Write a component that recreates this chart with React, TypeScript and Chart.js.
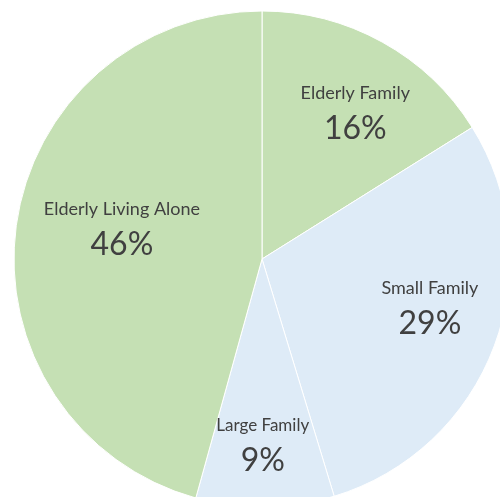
import React, { useEffect, useRef } from "react";
import { Chart, registerables } from "chart.js";

Chart.register(...registerables);

const categories = ["Elderly Family", "Small Family", "Large Family", "Elderly Living Alone"];
const shares = [16.1, 29.2, 9.0, 45.7];
const percentLabels = ["16%", "29%", "9%", "46%"];
const sliceColors = ["#C5E0B4", "#DEEBF7", "#DEEBF7", "#C5E0B4"];

// label placement relative to each slice: angle tweak (deg) and radius fraction
const labelAngleShift = [4.6, -2.5, 0.5, 2.0];
const labelRadiusFrac = [0.68, 0.712, 0.776, 0.573];
const titleFontSizes = [18, 18, 17, 18];

const FONT = "Lato, 'Open Sans', sans-serif";

const labelPlugin = {
  id: "sliceLabels",
  afterDatasetsDraw(chart: any) {
    const meta = chart.getDatasetMeta(0);
    const ctx = chart.ctx;
    ctx.save();
    ctx.fillStyle = "#404040";
    ctx.textAlign = "center";
    ctx.textBaseline = "alphabetic";
    meta.data.forEach((arc: any, i: number) => {
      const p = arc.getProps(["x", "y", "startAngle", "endAngle", "outerRadius"], true);
      const mid = (p.startAngle + p.endAngle) / 2 + (labelAngleShift[i] * Math.PI) / 180;
      const r = p.outerRadius * labelRadiusFrac[i];
      const cx = p.x + Math.cos(mid) * r;
      const cy = p.y + Math.sin(mid) * r;
      ctx.font = `${titleFontSizes[i]}px ${FONT}`;
      ctx.fillText(categories[i], cx, cy - 20);
      ctx.font = `32px ${FONT}`;
      ctx.fillText(percentLabels[i], cx, cy + 20);
    });
    ctx.restore();
  },
};

export default function App() {
  const ref = useRef<HTMLCanvasElement | null>(null);
  useEffect(() => {
    if (!ref.current) return;
    const chart = new Chart(ref.current, {
      type: "pie",
      data: {
        labels: categories,
        datasets: [
          {
            data: shares,
            backgroundColor: sliceColors,
            borderColor: "#FFFFFF",
            borderWidth: 1,
            radius: 248,
          } as any,
        ],
      },
      options: {
        responsive: false,
        animation: false,
        layout: { padding: { left: 24, top: 21, right: 0, bottom: 0 } },
        plugins: {
          legend: { display: false },
          tooltip: { enabled: false },
        },
      },
      plugins: [labelPlugin],
    });
    return () => chart.destroy();
  }, []);
  return (
    <div style={{ position: "fixed", left: 0, top: 0, width: 500, height: 497, overflow: "hidden", background: "#fff" }}>
      <canvas ref={ref} width={500} height={497} style={{ display: "block" }} />
    </div>
  );
}
